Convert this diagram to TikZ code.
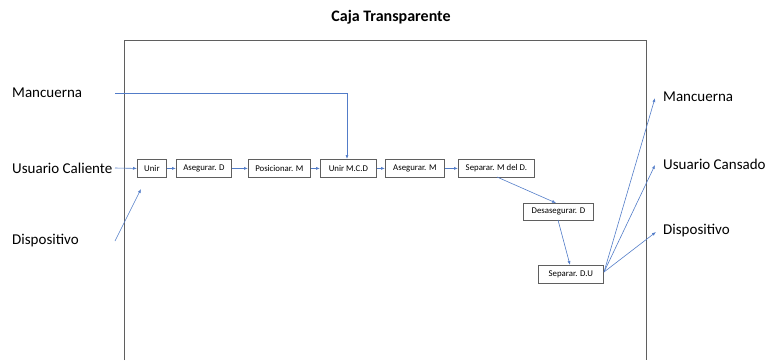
\documentclass[tikz,border=0pt]{standalone}
\usepackage{fontspec}
\setmainfont{Carlito}
\usetikzlibrary{arrows.meta}
\definecolor{lnblue}{RGB}{82,124,200}
\definecolor{boxgray}{RGB}{95,95,95}
\begin{document}
\begin{tikzpicture}[x=1pt,y=-1pt,
  proc/.style={draw=boxgray,line width=0.8pt,inner sep=0pt,minimum height=18pt,font=\fontsize{8.8}{10}\selectfont,anchor=north west},
  lbl/.style={font=\fontsize{15}{17}\selectfont,anchor=west,inner sep=0pt},
  flow/.style={draw=lnblue,line width=0.6pt,-{Latex[length=4pt,width=3pt]}}]
\useasboundingbox (0,0) rectangle (767,360);
\node[font=\bfseries\fontsize{16}{18}\selectfont,inner sep=0pt] (title) at (391,17) {Caja Transparente};
\draw[line width=0.8pt,draw=boxgray] (124,360) -- (124,40) -- (646,40) -- (646,360);
% left labels
\node[lbl] (mL) at (12,93) {Mancuerna};
\node[lbl] (uL) at (12,168) {Usuario Caliente};
\node[lbl] (dL) at (12,241) {Dispositivo};
% right labels
\node[lbl] (mR) at (663,97) {Mancuerna};
\node[lbl] (uR) at (663,164) {Usuario Cansado};
\node[lbl] (dR) at (663,231) {Dispositivo};
% boxes
\node[proc,minimum width=29pt] (b1) at (137,159) {Unir};
\node[proc,minimum width=55pt] (b2) at (176,159) {Asegurar. D};
\node[proc,minimum width=62pt] (b3) at (248,159) {Posicionar. M};
\node[proc,minimum width=56pt] (b4) at (320,159) {Unir M.C.D};
\node[proc,minimum width=59pt] (b5) at (385,159) {Asegurar. M};
\node[proc,minimum width=76pt] (b6) at (458,159) {Separar. M del D.};
\node[proc,minimum width=70pt,minimum height=17pt] (b7) at (523,203) {Desasegurar. D};
\node[proc,minimum width=65pt,minimum height=18pt] (b8) at (538,265) {Separar. D.U};
% coordinates for free ends
\coordinate (mS) at (115,93);
\coordinate (mC) at (347,93);
\coordinate (uS) at (115,168);
\coordinate (dS) at (115,241);
\coordinate (dE) at (141,189);
\coordinate (b6o) at (497,177);
\coordinate (b7i) at (556,203);
\coordinate (b7o) at (558,220);
\coordinate (b8i) at (570,265);
\coordinate (rS) at (604,272);
\coordinate (mE) at (655,98);
\coordinate (uE) at (655,165);
\coordinate (dRE) at (656,232);
% connectors
\draw[flow] (mS) -- (mC) -- (mC |- b4.north);
\draw[flow] (uS) -- (b1.west);
\draw[flow] (dS) -- (dE);
\draw[flow] (b1) -- (b2);
\draw[flow] (b2) -- (b3);
\draw[flow] (b3) -- (b4);
\draw[flow] (b4) -- (b5);
\draw[flow] (b5) -- (b6);
\draw[flow] (b6o) -- (b7i);
\draw[flow] (b7o) -- (b8i);
\draw[flow] (rS) -- (mE);
\draw[flow] (rS) -- (uE);
\draw[flow] (rS) -- (dRE);
\end{tikzpicture}
\end{document}
